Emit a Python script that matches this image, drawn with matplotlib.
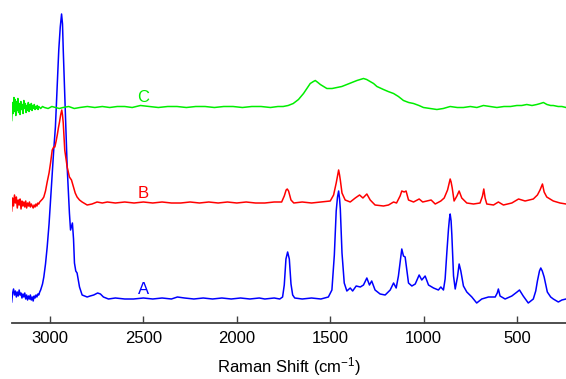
import matplotlib
matplotlib.use("Agg")
import matplotlib.pyplot as plt

plt.rcParams['font.family'] = ['Liberation Sans', 'DejaVu Sans']
plt.rcParams['mathtext.default'] = 'regular'

# ---- data (wavenumber cm-1, relative intensity) ----
wn_A = [3205, 3200, 3195, 3190, 3185, 3180, 3175, 3170, 3165, 3160, 3155, 3150, 3145, 3140, 3135, 3130,
        3125, 3120, 3115, 3110, 3105, 3100, 3095, 3090, 3085, 3080, 3075, 3070, 3065, 3060, 3055, 3050,
        3040, 3033, 3024, 3015, 3005, 2997, 2988, 2980, 2971, 2962, 2953, 2945, 2938, 2933, 2929, 2923,
        2917, 2908, 2896, 2890, 2880, 2874, 2869, 2862, 2855, 2842, 2828, 2801, 2785, 2766, 2745, 2730,
        2714, 2687, 2650, 2600, 2553, 2500, 2450, 2400, 2350, 2318, 2280, 2230, 2180, 2130, 2080, 2030,
        1980, 1930, 1880, 1850, 1800, 1770, 1755, 1746, 1737, 1728, 1719, 1710, 1701, 1690, 1650, 1600,
        1550, 1510, 1491, 1478, 1468, 1461, 1455, 1450, 1446, 1437, 1425, 1411, 1393, 1380, 1361, 1339,
        1322, 1304, 1290, 1278, 1260, 1233, 1206, 1179, 1161, 1147, 1135, 1124, 1117, 1108, 1099, 1090,
        1081, 1063, 1045, 1024, 1010, 992, 974, 947, 921, 908, 894, 885, 876, 867, 862, 858, 853, 849,
        840, 831, 819, 810, 801, 787, 769, 742, 716, 689, 653, 617, 606, 600, 591, 564, 528, 500, 487,
        467, 440, 413, 400, 391, 380, 373, 365, 355, 338, 320, 306, 279, 260, 238]
int_A = [-3, 6, 10, 4, 8, 2, 7, 3, 9, 4, 6, 1, 5, 2, 6, 0,
         4, -1, 3, 0, 4, -1, 2, -2, 3, 1, 4, 2, 5, 4, 7, 9,
         15, 22, 35, 52, 75, 99, 125, 149, 172, 210, 249, 272, 285, 275, 249, 215,
         182, 132, 86, 69, 76, 60, 36, 28, 26, 12, 4, 2, 3, 4, 6, 5,
         2, 0, 1, 0, 0, 1, 0, 1, 0, 2, 1, 0, 1, 0, 1, 0,
         1, 0, 1, 0, 1, 0, 2, 14, 40, 47, 40, 15, 4, 1, 0, 1,
         0, 2, 9, 44, 88, 102, 108, 100, 90, 46, 16, 8, 11, 8, 13, 12,
         14, 21, 14, 18, 9, 5, 4, 9, 16, 11, 23, 40, 50, 43, 42, 29,
         16, 13, 15, 24, 19, 23, 14, 11, 9, 12, 9, 20, 46, 70, 80, 85, 78, 64,
         23, 10, 22, 35, 28, 13, 7, 2, -4, 0, 2, 2, 6, 10, 3, 0, 3, 7, 9,
         3, -4, 0, 8, 18, 28, 31, 28, 22, 7, 2, 0, -3, -1, 0]

wn_B = [3205, 3200, 3195, 3190, 3185, 3180, 3175, 3170, 3165, 3160, 3155, 3150, 3145, 3140, 3135, 3130,
        3125, 3120, 3115, 3110, 3105, 3100, 3095, 3090, 3085, 3080, 3075, 3070, 3065, 3060, 3055, 3050,
        3040, 3033, 3024, 3015, 3005, 2997, 2988, 2980, 2974, 2967, 2961, 2955, 2949, 2943, 2937, 2933,
        2929, 2921, 2908, 2896, 2885, 2873, 2865, 2855, 2842, 2828, 2801, 2775, 2748, 2720, 2693, 2650,
        2600, 2550, 2500, 2450, 2400, 2350, 2300, 2250, 2200, 2150, 2100, 2050, 2000, 1950, 1900, 1850,
        1800, 1760, 1746, 1736, 1730, 1723, 1710, 1695, 1650, 1600, 1550, 1500, 1482, 1468, 1458, 1455,
        1450, 1446, 1437, 1420, 1393, 1366, 1343, 1325, 1304, 1286, 1260, 1215, 1188, 1161, 1145, 1126,
        1117, 1104, 1094, 1081, 1054, 1024, 1005, 983, 960, 938, 908, 890, 872, 863, 858, 853, 847, 837,
        822, 810, 796, 769, 733, 698, 685, 678, 671, 662, 626, 600, 573, 528, 492, 457, 434, 413, 391,
        377, 364, 355, 341, 306, 270, 238]
int_B = [-8, 5, -3, 8, 0, 6, -5, 3, -2, 4, -6, 2, -3, 1, -4, 2,
         -5, 0, -3, 1, -4, -1, -3, -5, -2, -4, -1, -3, 0, -1, 1, 2,
         4, 6, 12, 21, 30, 40, 53, 56, 56, 62, 68, 75, 81, 88, 93, 88,
         80, 53, 36, 26, 23, 15, 10, 6, 3, 1, -2, -1, 1, 0, 1, 0,
         1, 0, 1, 0, 1, 0, 0, 1, 0, 1, 0, 1, 0, 1, 0, 0,
         1, 1, 7, 13, 14, 12, 3, 0, 1, 0, 1, 2, 8, 20, 30, 33,
         28, 23, 10, 3, 1, 5, 8, 5, 9, 3, -2, -3, -2, 1, 0, 7,
         12, 11, 12, 3, 1, 4, 1, 2, 3, -1, 2, 5, 13, 20, 24, 21, 15, 2,
         7, 12, 5, 0, -1, 0, 7, 14, 5, -1, -2, 1, -2, 0, 4, 2, 3, 4, 8,
         13, 19, 11, 6, 2, 0, -1]

wn_C = [3205, 3200, 3197, 3193, 3190, 3186, 3183, 3180, 3176, 3172, 3168, 3164, 3160, 3156, 3152, 3148,
        3144, 3140, 3136, 3132, 3128, 3124, 3120, 3116, 3112, 3108, 3104, 3100, 3096, 3092, 3088, 3084,
        3080, 3076, 3072, 3068, 3064, 3060, 3050, 3040, 3030, 3010, 2990, 2970, 2950, 2930, 2900, 2870,
        2840, 2800, 2760, 2720, 2680, 2640, 2600, 2560, 2516, 2470, 2420, 2370, 2320, 2270, 2220, 2170,
        2120, 2070, 2020, 1970, 1920, 1870, 1820, 1780, 1752, 1725, 1698, 1670, 1643, 1625, 1607, 1590,
        1580, 1566, 1553, 1535, 1518, 1490, 1464, 1438, 1411, 1384, 1357, 1340, 1322, 1305, 1286, 1268,
        1250, 1215, 1190, 1161, 1135, 1108, 1080, 1054, 1025, 1001, 965, 929, 895, 858, 820, 787,
        750, 715, 680, 645, 608, 570, 535, 501, 475, 448, 420, 394, 375, 359, 340, 320, 306, 280, 260, 238]
int_C = [-13, 5, -6, 10, -4, 8, -8, 6, -3, 9, -5, 4, -7, 6, -2, 3,
         -6, 7, -1, 4, -5, 2, -3, 5, -4, 3, -2, 4, -3, 2, -1, 3,
         -2, 1, -1, 2, -2, 1, -1, 1, 0, -1, 1, 0, -1, 0, 1, -1,
         0, 1, 0, 1, 0, 1, 1, 0, 2, 1, 0, 1, 1, 0, 1, 1,
         0, 1, 1, 0, 1, 1, 0, 1, 1, 2, 4, 8, 14, 19, 24, 26,
         27, 25, 23, 21, 19, 19, 20, 21, 23, 25, 27, 28, 29, 28, 26, 24,
         21, 18, 16, 14, 11, 7, 5, 4, 2, 0, -1, -2, -1, 1, 0, 0,
         1, 0, 2, 1, 0, 1, 1, 2, 2, 3, 2, 3, 4, 5, 3, 2, 2, 1, 1, 0]

labels = ['A', 'B', 'C']
colors = ['#0000FF', '#FF0000', '#00EE00']
offsets = [0, 96, 191.5]
tick_vals = [3000, 2500, 2000, 1500, 1000, 500]
label_x = 2500

fig = plt.figure(figsize=(5.66, 3.79), dpi=100)
ax = fig.add_axes([11.5 / 566, 56 / 379, 1 - 11.5 / 566, 1 - 56 / 379])

series = [(wn_A, int_A), (wn_B, int_B), (wn_C, int_C)]
for (wn, it), lab, col, off in zip(series, labels, colors, offsets):
    ax.plot(wn, [v + off for v in it], color=col, lw=1.1)
    ax.text(label_x, off + 10, lab, color=col, fontsize=12, ha='center', va='center')

ax.set_xlim(3206, 238)
ax.set_ylim(-24, 299)
ax.set_xticks(tick_vals)
ax.set_xticklabels([str(t) for t in tick_vals])
ax.set_yticks([])
for s in ['left', 'right', 'top']:
    ax.spines[s].set_visible(False)
ax.spines['bottom'].set_color('#404040')
ax.spines['bottom'].set_linewidth(1.3)
ax.tick_params(axis='x', direction='in', length=5, width=1, color='#404040',
               labelsize=12, pad=6)
ax.set_xlabel('Raman Shift (cm$^{-1}$)', fontsize=12, labelpad=6.5)

fig.savefig('out.png', dpi=100)
